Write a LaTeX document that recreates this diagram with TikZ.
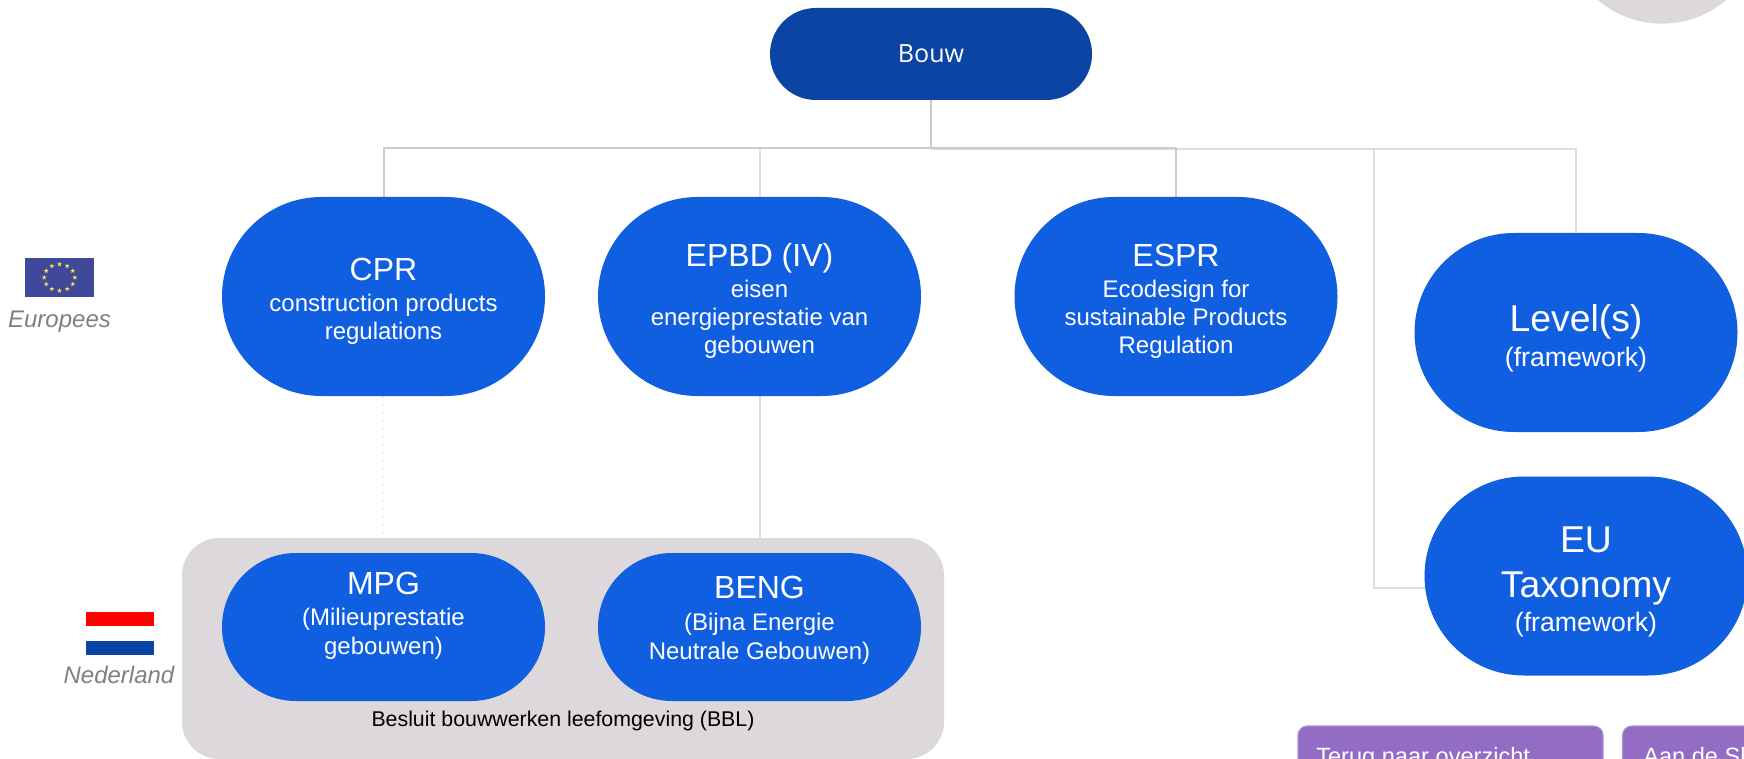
\documentclass[tikz,border=0pt]{standalone}
\usepackage{fontspec}
\setmainfont{Liberation Sans}
\newfontfamily\bouwfont{Open Sans}
\usepackage{xcolor}
\usetikzlibrary{shapes.geometric, backgrounds}
\definecolor{bouwblue}{HTML}{0B44A3}
\definecolor{pillblue}{HTML}{0F5FE0}
\definecolor{bblgray}{HTML}{DCD8DC}
\definecolor{euflag}{HTML}{3F4899}
\definecolor{euyellow}{HTML}{F7DC4F}
\definecolor{knop}{HTML}{936DC3}
\tikzset{
pill/.style={fill=pillblue,text=white,align=center,inner sep=0pt,minimum width=242.25pt,minimum height=149.25pt,rounded corners=74.6pt,font=\fontsize{18}{21}\selectfont},
lowpill/.style={pill,minimum height=111pt,rounded corners=55.4pt,font=\fontsize{18}{21.8}\selectfont},
linkdark/.style={draw=black!20,line width=1.5pt},
linklight/.style={draw=bblgray!90,line width=1.5pt},
landlabel/.style={text=black!50,font=\fontsize{18}{21}\selectfont\itshape,inner sep=0pt},
flagbar/.style={inner sep=0pt,minimum width=51pt,minimum height=10.5pt},
knopbox/.style={fill=knop,draw=knop!75,line width=.8pt,rounded corners=7pt,inner sep=0pt,minimum height=60pt},
}
\newcommand{\bigtxt}{\fontsize{24}{29}\selectfont}
\newcommand{\hugetxt}{\fontsize{28}{30}\selectfont}
\newcommand{\boven}[1]{\rule{0pt}{#1pt}}
\newcommand{\onder}[1]{\rule[-#1pt]{0pt}{#1pt}}
\begin{document}
\begin{tikzpicture}[x=.75pt,y=-.75pt]
\useasboundingbox (0,0) rectangle (1744,759);
\clip (0,0) rectangle (1744,759);
\node[fill=bblgray,circle,inner sep=0pt,minimum size=148pt] (hoek) at (1662,-75) {};
\node[fill=bouwblue,text=white,inner sep=0pt,minimum width=241.5pt,minimum height=69pt,rounded corners=34.4pt,font=\bouwfont\fontsize{18.8}{23}\selectfont] (bouw) at (931,54) {Bouw};
\node[pill] (cpr) at (383.5,296.5) {\boven{24.3}{\bigtxt CPR}\\[2.5pt] construction products\\ regulations};
\node[pill] (epbd) at (759.5,296.5) {\boven{24.3}{\bigtxt EPBD (IV)}\\[2.5pt] eisen\\ energieprestatie van\\ gebouwen};
\node[pill] (espr) at (1176,296.5) {\boven{24.3}{\bigtxt ESPR}\\[2.5pt] Ecodesign for\\ sustainable Products\\ Regulation};
\node[pill] (level) at (1576,332.5) {\boven{29}{\hugetxt Level(s)}\\[5.7pt] \fontsize{20}{24}\selectfont (framework)};
\node[pill] (euta) at (1586,576) {\boven{28.4}{\hugetxt EU}\\[12.5pt] {\hugetxt Taxonomy}\\[4.7pt] \fontsize{20}{24}\selectfont (framework)};
\node[lowpill] (mpg) at (383.5,627) {{\bigtxt MPG}\\[1.8pt] (Milieuprestatie\\ gebouwen)\onder{20.6}};
\node[lowpill] (beng) at (759.5,627) {{\bigtxt BENG}\\[1.8pt] (Bijna Energie\\ Neutrale Gebouwen)\onder{13.8}};
\node[inner sep=0pt,text=black,font=\fontsize{16}{19}\selectfont] (bbl) at (563,721) {Besluit bouwwerken leefomgeving (BBL)};
\node[fill=euflag,inner sep=0pt,minimum width=51.75pt,minimum height=29.25pt] (euvlag) at (59.5,277.5) {};
\foreach \i in {0,...,11}
  \node[star,star points=5,star point ratio=2.4,fill=euyellow,inner sep=0pt,minimum size=3.8pt] (ster\i) at ({59.5+15.3*cos(30*\i)},{277.5+13.2*sin(30*\i)}) {};
\node[landlabel] (europees) at (59.5,322) {Europees};
\node[flagbar,fill=red] (nlrood) at (120,619) {};
\node[flagbar,fill=bouwblue] (nlblauw) at (120,647.5) {};
\node[landlabel] (nederland) at (119,675) {Nederland};
\node[knopbox,minimum width=228.75pt] (terug) at (1450.5,766) {};
\node[knopbox,minimum width=228.75pt] (slag) at (1775,766) {};
\node[anchor=base west,inner sep=0pt,text=white,font=\fontsize{17.7}{21}\selectfont] (terugtxt) at (1316,764) {Terug naar overzicht};
\node[anchor=base west,inner sep=0pt,text=white,font=\fontsize{17.7}{21}\selectfont] (slagtxt) at (1643,764) {Aan de Sl};
\coordinate (balk) at (931,148);
\coordinate (balkeu) at (1373.5,149);
\coordinate (voeteu) at (1440,588);
\begin{scope}[on background layer]
\draw[draw=black!12,line width=1pt,dash pattern=on 1.2pt off 4.8pt] (cpr.south) -- (mpg.north);
\node[fill=bblgray,inner sep=0pt,minimum width=571.5pt,minimum height=165.75pt,rounded corners=28pt] (bblvlak) at (563,648.5) {};
\draw[linklight] (epbd.south) -- (beng.north);
\draw[linklight] (balk) -| (epbd.north);
\draw[linklight] (balk |- balkeu) -- (balkeu);
\draw[linklight] (balkeu) |- (voeteu);
\draw[linklight] (balkeu) -| (level.north);
\draw[linkdark] (balk) -| (cpr.north);
\draw[linkdark] (balk) -| (espr.north);
\draw[linkdark] (bouw.south) -- (balk);
\end{scope}
\end{tikzpicture}
\end{document}
